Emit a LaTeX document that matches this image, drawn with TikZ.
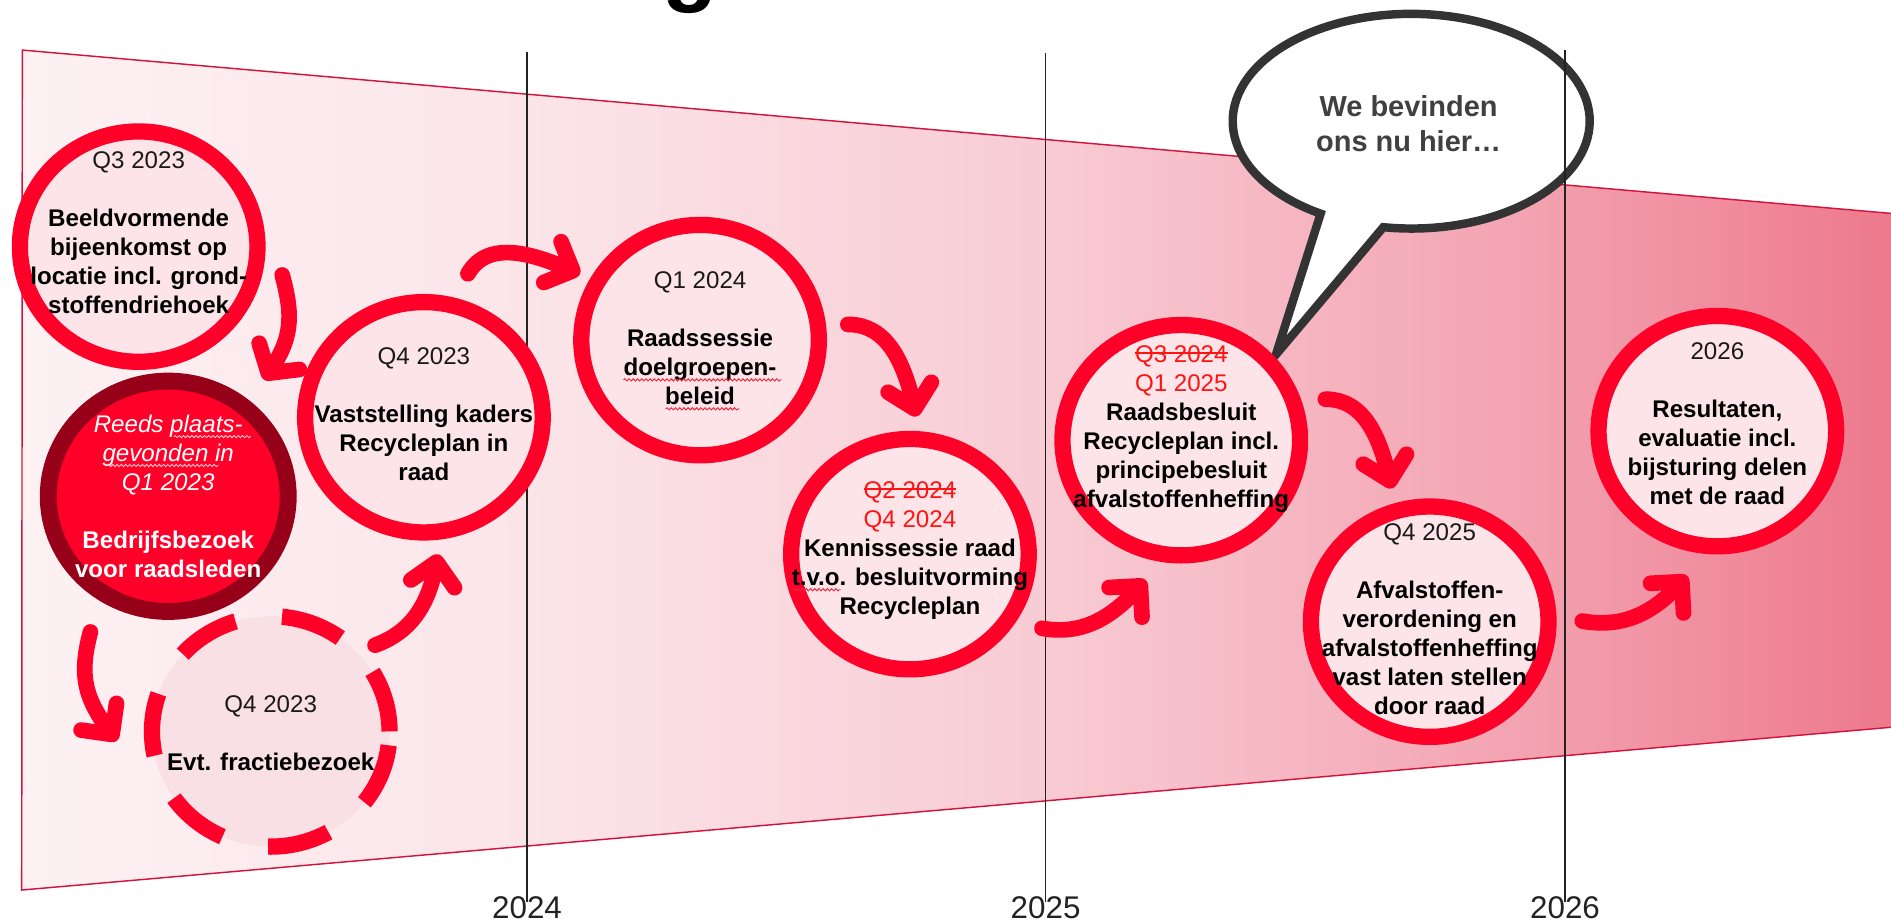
\documentclass[tikz,border=0pt]{standalone}
\usepackage{fontspec}
\setmainfont{Liberation Sans}
\usetikzlibrary{shapes.geometric,decorations.pathmorphing}
\definecolor{cred}{RGB}{255,0,40}
\definecolor{cfill}{RGB}{252,228,232}
\definecolor{cfillb}{RGB}{249,224,228}
\definecolor{cdark}{RGB}{150,0,24}
\definecolor{cborder}{RGB}{210,20,60}
\definecolor{cq}{RGB}{26,26,26}
\definecolor{cstr}{RGB}{255,20,20}
\definecolor{cbub}{RGB}{51,51,51}
\definecolor{cbubtxt}{RGB}{64,64,64}
\definecolor{cyear}{RGB}{34,34,34}
\definecolor{csqa}{RGB}{235,40,60}
\definecolor{csqb}{RGB}{255,190,200}
\pgfdeclarehorizontalshading{trapshade}{100bp}{rgb(0bp)=(0.992,0.945,0.953); rgb(25bp)=(0.992,0.945,0.953); rgb(38.5bp)=(0.984,0.898,0.914); rgb(52.5bp)=(0.973,0.796,0.827); rgb(65bp)=(0.953,0.639,0.694); rgb(75bp)=(0.929,0.471,0.549); rgb(100bp)=(0.929,0.471,0.549)}
\newcommand\strk[1]{\setbox0\hbox{#1}\rlap{\rule[0.34em]{\wd0}{0.09em}}\box0}
\begin{document}
\begin{tikzpicture}[x=1pt,y=-1pt,
  circ/.style={ellipse,draw=cred,line width=13.5pt,fill=cfill,inner sep=0pt,outer sep=0pt,minimum width=197pt,minimum height=191pt},
  ctext/.style={align=center,font=\fontsize{20}{24}\selectfont\bfseries,text=black,inner sep=0pt},
  arr/.style={draw=cred,line width=13pt,line cap=round,line join=round},
  yearlbl/.style={anchor=base,font=\fontsize{26}{30}\selectfont,text=cyear,inner sep=0pt},
  vline/.style={draw=cyear,line width=1.3pt},
  squig/.style={draw=csqa,line width=0.8pt,decorate,decoration={snake,amplitude=0.9pt,segment length=3.5pt}}
]
\useasboundingbox (0,0) rectangle (1568,765);
% title fragment
\node[anchor=base,font=\fontsize{75}{75}\selectfont\bfseries,inner sep=0pt] (title) at (572,-4.5) {g};
% band
\shade[shading=trapshade] (18.5,41.5) -- (1572,177.3) -- (1572,602.7) -- (18,738) -- cycle;
\draw[cborder,line width=1.2pt] (1572,177.3) -- (18.5,41.5) -- (18,738) -- (1572,602.7);
% speech bubble
\coordinate (tip) at (1058,294);
\filldraw[fill=white,draw=cbub,line width=7pt,line join=miter] (tip) -- (1147,188.4) arc[start angle=99,end angle=-239.5,x radius=148,y radius=89] -- cycle;
\node[align=center,font=\fontsize{24}{29}\selectfont\bfseries,text=cbubtxt,inner sep=0pt] (bt) at (1168,102.8) {We bevinden\\ ons nu hier…};
% year lines and labels
\node[yearlbl] (y24) at (437,762) {2024};
\node[yearlbl] (y25) at (867,762) {2025};
\node[yearlbl] (y26) at (1297.7,762) {2026};
\coordinate (l24) at (437,43);
\coordinate (l25) at (867,44);
\coordinate (l26) at (1297.7,41.5);
\draw[vline] (l24) -- ([yshift=-4pt]y24.north);
\draw[vline] (l25) -- ([yshift=-4pt]y25.north);
\draw[vline] (l26) -- ([yshift=-4pt]y26.north);
% circles
\node[circ] (c1) at (115,204.5) {};
\node[circ,draw=cdark,fill=cred,line width=14pt,minimum width=199pt] (c2) at (139.5,411.5) {};
\node[circ] (c3) at (351.5,346) {};
\node[circ,fill=cfillb,dash pattern=on 52pt off 39pt] (c4) at (224.5,606.5) {};
\node[circ] (c5) at (580.5,282) {};
\node[circ] (c6) at (754.5,459.5) {};
\node[circ] (c7) at (979.5,365) {};
\node[circ] (c8) at (1185.5,515.5) {};
\node[circ] (c9) at (1424,357.5) {};
% texts
\node[ctext] (t1) at (115,192.7) {\textcolor{cq}{\mdseries Q3 2023}\\[24pt]Beeldvormende\\ bijeenkomst op\\ locatie incl. grond-\\ stoffendriehoek};
\node[ctext,text=white] (t2) at (139.5,411.7) {\mdseries\itshape Reeds plaats-\\ \mdseries\itshape gevonden in\\ \mdseries\itshape Q1 2023\\[24pt]Bedrijfsbezoek\\ voor raadsleden};
\node[ctext] (t3) at (351.5,343.2) {\textcolor{cq}{\mdseries Q4 2023}\\[24pt]Vaststelling kaders\\ Recycleplan in\\ raad};
\node[ctext] (t4) at (224.5,608.2) {\textcolor{cq}{\mdseries Q4 2023}\\[24pt]Evt. fractiebezoek};
\node[ctext] (t5) at (580.5,280.2) {\textcolor{cq}{\mdseries Q1 2024}\\[24pt]Raadssessie\\ doelgroepen-\\ beleid};
\node[ctext] (t6) at (754.5,456.3) {\textcolor{cstr}{\mdseries\strk{Q2 2024}}\\ \textcolor{cstr}{\mdseries Q4 2024}\\ Kennissessie raad\\ t.v.o. besluitvorming\\ Recycleplan};
\node[ctext] (t7) at (979.5,355.8) {\textcolor{cstr}{\mdseries\strk{Q3 2024}}\\ \textcolor{cstr}{\mdseries Q1 2025}\\ Raadsbesluit\\ Recycleplan incl.\\ principebesluit\\ afvalstoffenheffing};
\node[ctext] (t8) at (1185.5,513.7) {\textcolor{cq}{\mdseries Q4 2025}\\[24pt]Afvalstoffen-\\ verordening en\\ afvalstoffenheffing\\ vast laten stellen\\ door raad};
\node[ctext] (t9) at (1424,351.1) {\textcolor{cq}{\mdseries 2026}\\[24pt]Resultaten,\\ evaluatie incl.\\ bijsturing delen\\ met de raad};
% spell-check squiggles
\draw[squig,draw=csqb] (144,362) -- (208,362);
\draw[squig,draw=csqb] (89,386) -- (181,386);
\draw[squig] (517,315) -- (648,315);
\draw[squig] (552,339) -- (613,339);
\draw[squig] (657,489) -- (697,489);
% arrows
\coordinate (a1s) at (234,228); \coordinate (a1e) at (222.5,309.5);
\coordinate (a2s) at (75,524);  \coordinate (a2e) at (93,609);
\coordinate (a3s) at (311,535); \coordinate (a3e) at (362,466);
\coordinate (a4s) at (388,227); \coordinate (a4e) at (475,224.5);
\coordinate (a5s) at (703,269); \coordinate (a5e) at (758.5,339);
\coordinate (a6s) at (864,521); \coordinate (a6e) at (945.6,485.8);
\coordinate (a7s) at (1099,331); \coordinate (a7e) at (1152.5,398.7);
\coordinate (a8s) at (1312,515); \coordinate (a8e) at (1394.6,482.3);
\draw[arr] (a1s) to[out=-75,in=55,looseness=1.1] (a1e) -- ([shift={(-7:26)}]a1e) (a1e) -- ([shift={(-107:26)}]a1e);
\draw[arr] (a2s) to[out=-105,in=128,looseness=1.1] (a2e) -- ([shift={(188:26)}]a2e) (a2e) -- ([shift={(278:26)}]a2e);
\draw[arr] (a3s) to[out=20,in=-100] (a3e) -- ([shift={(55:26)}]a3e) (a3e) -- ([shift={(145:26)}]a3e);
\draw[arr] (a4s) to[out=60,in=157] (a4e) -- ([shift={(158:26)}]a4e) (a4e) -- ([shift={(248:26)}]a4e);
\draw[arr] (a5s) to[out=0,in=103] (a5e) -- ([shift={(212:26)}]a5e) (a5e) -- ([shift={(302:26)}]a5e);
\draw[arr] (a6s) to[out=-10,in=-132] (a6e) -- ([shift={(87:26)}]a6e) (a6e) -- ([shift={(177:26)}]a6e);
\draw[arr] (a7s) to[out=0,in=103] (a7e) -- ([shift={(212:26)}]a7e) (a7e) -- ([shift={(302:26)}]a7e);
\draw[arr] (a8s) to[out=-10,in=-132] (a8e) -- ([shift={(87:26)}]a8e) (a8e) -- ([shift={(177:26)}]a8e);
\end{tikzpicture}
\end{document}
